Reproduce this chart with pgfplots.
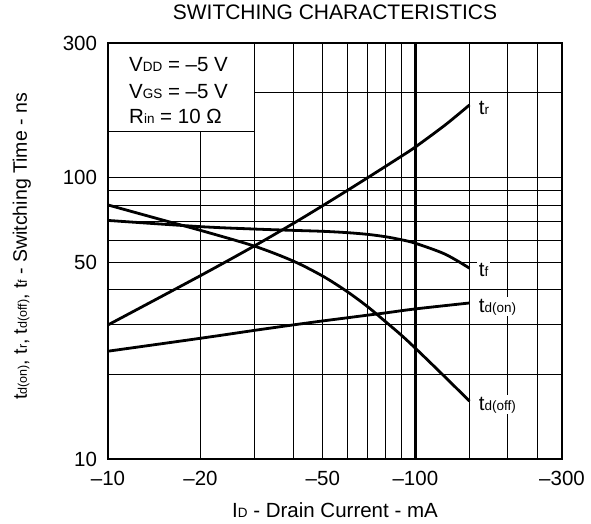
\documentclass[border=0pt]{standalone}
\usepackage{fontspec}
\setmainfont{Liberation Sans}
\usepackage{pgfplots}
\pgfplotsset{compat=1.18}
\newcommand{\sub}[1]{{\fontsize{13.5}{14}\selectfont #1}}
\newcommand{\ysub}[1]{{\fontsize{12.5}{13}\selectfont #1}}
\begin{document}
\fontsize{20.5}{24}\selectfont
\begin{tikzpicture}
\useasboundingbox (-108pt,-64.7pt) rectangle (483pt,459.3pt);
\begin{axis}[
  scale only axis, width=454pt, height=416pt,
  xmode=log, ymode=log,
  xmin=10, xmax=300, ymin=10, ymax=300,
  xtick={10,20,50,100,300}, xticklabels={–10,–20,–50,–100,–300},
  ytick={10,50,100,300}, yticklabels={10,50,100,300},
  minor xtick={30,40,60,70,80,90,150,200,250},
  minor ytick={20,30,40,60,70,80,90,200},
  grid=both,
  major grid style={black, line width=0.9pt},
  minor grid style={black, line width=0.9pt},
  major tick length=0pt, minor tick length=0pt,
  axis line style={line width=2pt},
  xticklabel style={yshift=-5pt},
  yticklabel style={xshift=-4pt},
  title={SWITCHING CHARACTERISTICS},
  title style={at={(axis description cs:0.5,1.0416)}, anchor=base, font=\fontsize{21}{24}\selectfont},
  xlabel={I\sub{D} - Drain Current - mA},
  xlabel style={at={(axis description cs:0.5,-0.141)}, anchor=base},
  ylabel={t\ysub{d(on)}, t\ysub{r}, t\ysub{d(off)}, t\ysub{f} - Switching Time - ns},
  ylabel style={at={(axis description cs:-0.19,0.5115)}, anchor=center, font=\fontsize{19.5}{22}\selectfont},
]
\draw[line width=2.3pt] (axis cs:100,10) -- (axis cs:100,300);
% t_r
\addplot[black, line width=2.8pt, smooth] coordinates {
 (10,30) (20,44.9) (30,57.3) (40,68.7) (50,79.6) (60,90) (70,100) (80,109.7) (90,119.1) (100,128.5) (125,153.8) (150,181.2)};
% t_f
\addplot[black, line width=2.8pt, smooth] coordinates {
 (10,70.5) (20,67.0) (30,65.7) (40,65.0) (50,64.5) (60,63.8) (70,62.9) (80,61.7) (90,60.2) (100,58.5) (125,53.5) (150,47.7)};
% t_d(off)
\addplot[black, line width=2.8pt, smooth] coordinates {
 (10,80) (15,70.8) (20,65.0) (30,57.1) (40,50.6) (50,44.7) (60,39.4) (70,34.8) (80,30.8) (90,27.6) (100,24.8) (122,20.1) (150,16.1)};
% t_d(on)
\addplot[black, line width=2.8pt, smooth] coordinates {
 (10,24.2) (20,26.9) (30,28.7) (40,30.0) (50,31.0) (60,31.8) (70,32.5) (80,33.1) (100,34.2) (150,35.9)};
% condition box
\draw[line width=1pt, fill=white] (rel axis cs:0,0.789) rectangle (axis cs:30,300);
\node[anchor=base west, xshift=21pt, yshift=-28.4pt, inner sep=0pt] at (rel axis cs:0,1) {V\sub{DD} = –5 V};
\node[anchor=base west, xshift=21pt, yshift=-55pt, inner sep=0pt] at (rel axis cs:0,1) {V\sub{GS} = –5 V};
\node[anchor=base west, xshift=21pt, yshift=-80pt, inner sep=0pt] at (rel axis cs:0,1) {R\sub{in} = 10 Ω};
% curve labels
\node[anchor=west, fill=white, inner sep=1.5pt] at (axis cs:159,176.5) {t\sub{r}};
\node[anchor=west, fill=white, inner sep=1.5pt] at (axis cs:159,46.9) {t\sub{f}};
\node[anchor=west, fill=white, inner sep=1.5pt] at (axis cs:159,34.8) {t\sub{d(on)}};
\node[anchor=west, fill=white, inner sep=1.5pt] at (axis cs:159,15.6) {t\sub{d(off)}};
\end{axis}
\end{tikzpicture}
\end{document}
